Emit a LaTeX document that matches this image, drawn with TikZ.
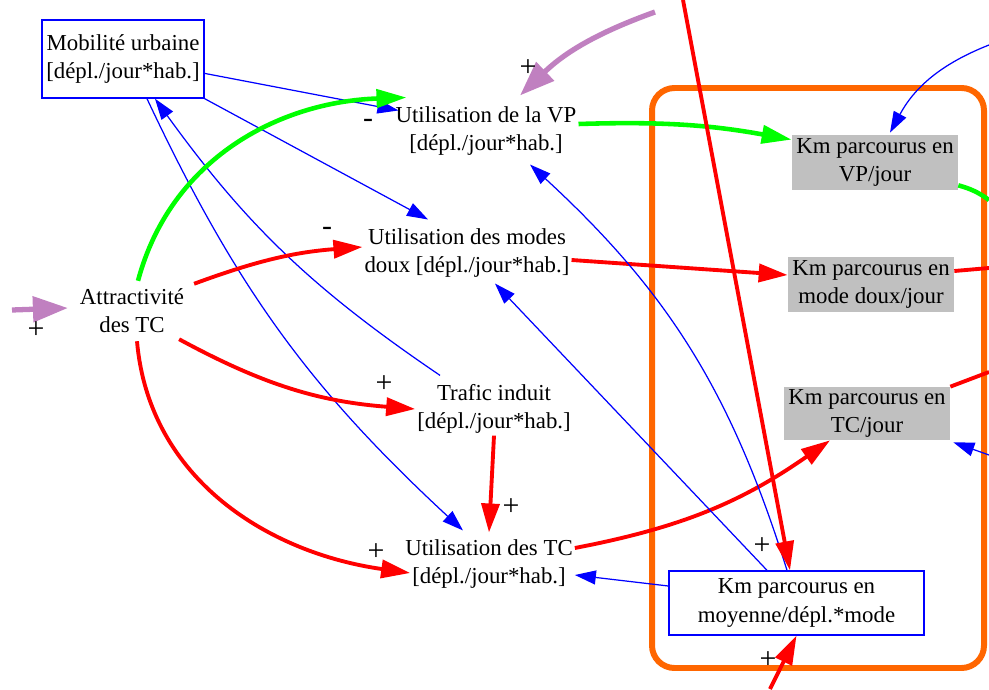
\documentclass[tikz,border=0pt]{standalone}
\usepackage{fontspec}
\setmainfont{Liberation Serif}
\usepackage{xcolor}
\usepackage{tikz}
\usetikzlibrary{arrows.meta}

\definecolor{vpgreen}{RGB}{0,255,0}
\definecolor{extpurple}{RGB}{192,128,192}
\definecolor{frameorange}{RGB}{255,102,0}
\definecolor{kmgray}{RGB}{192,192,192}

\tikzset{
    var/.style={align=center, inner sep=1pt, font=\fontsize{13}{16}\selectfont},
    stockbox/.style={var, draw=blue, line width=0.8pt},
    kmbox/.style={var, fill=kmgray, inner sep=0pt, minimum width=3.32cm, minimum height=1.1cm},
    sign/.style={inner sep=0pt, font=\fontsize{17}{18}\selectfont},
    redarrow/.style={red, line width=2.2pt, -{Triangle[length=0.58cm,width=0.36cm]}},
    greenarrow/.style={vpgreen, line width=2.6pt, -{Triangle[length=0.6cm,width=0.36cm]}},
    bluearrow/.style={blue, line width=0.7pt, -{Triangle[length=0.42cm,width=0.28cm]}},
    purplearrow/.style={extpurple, line width=3pt, -{Triangle[length=0.7cm,width=0.5cm]}}
}

\begin{document}
\begin{tikzpicture}[x=0.02cm, y=0.02cm]
    \useasboundingbox (0,0) rectangle (989,-689);

    \draw[frameorange, line width=3.4pt, rounded corners=0.45cm] (652,-88) rectangle (984,-668);

    \node[stockbox, minimum width=3.24cm, minimum height=1.56cm] (mob) at (123,-59)
        {Mobilité urbaine\\{[}dépl./jour*hab.{]}};
    \node[var] (uvp) at (486,-131) {Utilisation de la VP\\{[}dépl./jour*hab.{]}};
    \node[var] (umd) at (467,-253) {Utilisation des modes\\doux {[}dépl./jour*hab.{]}};
    \node[var] (att) at (132,-311) {Attractivité\\des TC};
    \node[var] (tra) at (494,-409) {Trafic induit\\{[}dépl./jour*hab.{]}};
    \node[var] (utc) at (489,-564) {Utilisation des TC\\{[}dépl./jour*hab.{]}};
    \node[kmbox] (kmvp) at (875,-162.5) {Km parcourus en\\VP/jour};
    \node[kmbox] (kmmd) at (871,-284.5) {Km parcourus en\\mode doux/jour};
    \node[kmbox, minimum height=1.06cm] (kmtc) at (867,-413.5) {Km parcourus en\\TC/jour};
    \node[stockbox, minimum width=5.1cm, minimum height=1.28cm] (kmm) at (796.5,-603)
        {Km parcourus en\\moyenne/dépl.*mode};

    \coordinate (topred) at (683,0);
    \coordinate (toppurple) at (655,-12);
    \coordinate (leftpurple) at (12,-310);
    \coordinate (botred) at (770,-689);
    \coordinate (rtblue) at (989,-45);
    \coordinate (rtgreen) at (989,-200);
    \coordinate (rtred) at (989,-268);
    \coordinate (rtredtc) at (989,-372);
    \coordinate (rtbluetc) at (989,-455);

    \draw[bluearrow] (mob.-10) -- ([xshift=0.1cm,yshift=-0.12cm]uvp.north west);
    \draw[bluearrow] (mob.south east) -- ([xshift=-0.78cm,yshift=0.14cm]umd.north);
    \draw[bluearrow] ([xshift=0.48cm]mob.south) to[bend right=11] ([xshift=-0.52cm,yshift=0.14cm]utc.north);
    \draw[bluearrow] ([xshift=-1.08cm,yshift=0.14cm]tra.north) to[bend left=10] ([xshift=0.64cm]mob.south);

    \draw[greenarrow] ([xshift=0.12cm,yshift=0.12cm]att.north) to[out=75,in=182] ([xshift=0.26cm,yshift=0.14cm]uvp.north west);
    \draw[redarrow] ([xshift=0.16cm,yshift=0.06cm]att.north east) to[bend left=8] ([yshift=0.12cm]umd.west);
    \draw[redarrow] ([xshift=-0.14cm,yshift=-0.08cm]att.south east) to[bend right=12] (tra.west);
    \draw[redarrow] ([xshift=0.1cm,yshift=-0.12cm]att.south) to[out=-85,in=172] ([xshift=0.14cm,yshift=-0.18cm]utc.west);
    \draw[redarrow] (tra.south) -- ([yshift=0.1cm]utc.north);

    \draw[greenarrow] ([yshift=0.14cm]uvp.east) to[bend left=6] ([yshift=-0.1cm]kmvp.north west);
    \draw[redarrow] ([yshift=-0.14cm]umd.east) -- ([yshift=0.19cm]kmmd.west);
    \draw[redarrow] ([yshift=0.32cm]utc.east) to[bend right=12] ([xshift=-0.74cm]kmtc.south);

    \draw[bluearrow] ([yshift=0.34cm]kmm.west) -- ([yshift=-0.22cm]utc.east);
    \draw[bluearrow] ([xshift=-0.59cm]kmm.north) -- ([xshift=0.56cm,yshift=-0.08cm]umd.south);
    \draw[bluearrow] ([xshift=-0.19cm]kmm.north) to[bend right=15] ([xshift=0.88cm,yshift=-0.14cm]uvp.south);
    \draw[redarrow] (topred) -- ([xshift=-0.13cm]kmm.north);
    \draw[redarrow] (botred) -- (kmm.south);

    \draw[purplearrow] (toppurple) to[bend right=12] ([xshift=0.68cm,yshift=0.18cm]uvp.north);
    \draw[purplearrow] (leftpurple) -- ([xshift=-0.2cm,yshift=0.06cm]att.west);

    \draw[bluearrow] (rtblue) to[bend right=20] ([xshift=0.3cm,yshift=0.04cm]kmvp.north);
    \draw[vpgreen, line width=2.6pt] ([yshift=0.1cm]kmvp.south east) to[bend left=10] (rtgreen);
    \draw[red, line width=2.2pt] ([yshift=0.27cm]kmmd.east) -- (rtred);
    \draw[red, line width=2.2pt] (kmtc.north east) -- (rtredtc);
    \draw[bluearrow] (rtbluetc) -- ([xshift=0.06cm,yshift=-0.04cm]kmtc.south east);

    \node[sign] (sgvp) at (368,-123) {-};
    \node[sign] (sgmd) at (327,-231) {-};
    \node[sign] (sgtra) at (384,-384) {+};
    \node[sign] (sgtc) at (376,-552) {+};
    \node[sign] (sgti) at (511,-507) {+};
    \node[sign] (sgpu) at (528,-68) {+};
    \node[sign] (sgat) at (36,-330) {+};
    \node[sign] (sgkmtop) at (762,-546) {+};
    \node[sign] (sgkmbot) at (768,-660) {+};
\end{tikzpicture}
\end{document}
